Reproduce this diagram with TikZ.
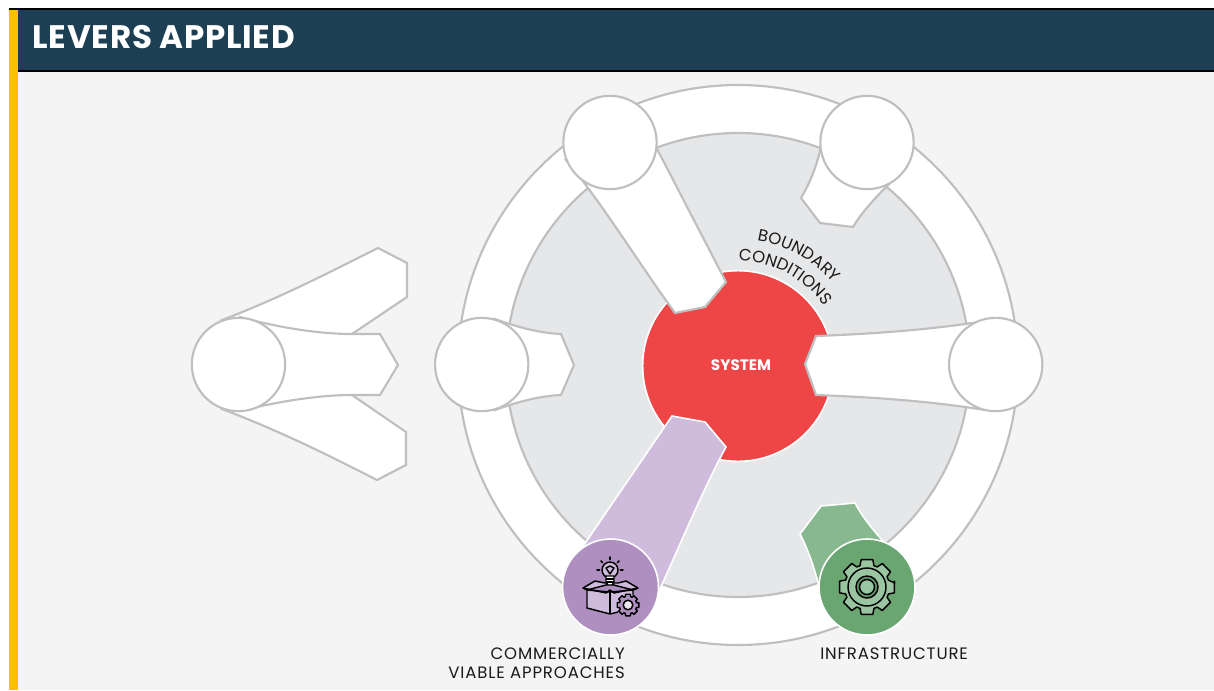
\documentclass[tikz,border=0pt]{standalone}
\usepackage{fontspec}
\setmainfont{Poppins}
\usetikzlibrary{decorations.text,calc}
\definecolor{bgc}{HTML}{F4F4F4}
\definecolor{headc}{HTML}{1C3F54}
\definecolor{yel}{HTML}{FFC000}
\definecolor{edge}{HTML}{BFBFBF}
\definecolor{disc}{HTML}{E6E7E9}
\definecolor{redc}{HTML}{EE4547}
\definecolor{purp}{HTML}{AE8FC0}
\definecolor{purpl}{HTML}{CFBBDB}
\definecolor{gree}{HTML}{69A671}
\definecolor{greel}{HTML}{88B88F}
\definecolor{greell}{HTML}{99C5A0}
\definecolor{ink}{HTML}{1A1A1A}
\newcommand{\labfont}{\fontsize{12.4pt}{14pt}\selectfont\addfontfeature{LetterSpace=5.2}}
\tikzset{
  ring/.style={draw=edge,line width=1.6pt,fill=white},
  lever/.style={draw=edge,line width=1.6pt,fill=white,line join=miter},
  knob/.style={circle,draw=edge,line width=1.6pt,fill=white,minimum size=70pt,inner sep=0pt},
  knobc/.style={circle,draw=white,line width=1.2pt,minimum size=72pt,inner sep=0pt},
  barc/.style={draw=white,line width=1.2pt},
  lab/.style={inner sep=0pt,text=ink,font=\labfont},
  icon/.style={draw=black,line width=1.1pt,line join=round},
}
\newcommand{\gearshape}[6]{% cx cy outer root fill width
  \draw[icon,fill=#5,line width=#6] ($(#1,#2)+(-8:#3)$)
  \foreach \a in {0,45,...,315}{ -- ($(#1,#2)+(\a-12:#3)$) -- ($(#1,#2)+(\a+12:#3)$) -- ($(#1,#2)+(\a+18:#4)$) -- ($(#1,#2)+(\a+27:#4)$) } -- cycle;
}
\begin{document}
\begin{tikzpicture}[x=.75pt,y=-.75pt]
\useasboundingbox (0,0) rectangle (1214,690);
\fill[white] (0,0) rectangle (1214,690);
\fill[bgc] (18,71) rectangle (1214,690);
\fill[headc] (18,9) rectangle (1214,70);
\fill[yel] (9,9) rectangle (18,690);
\draw[black,line width=1.3pt] (9,8.7) -- (1214,8.7);
\draw[black,line width=1.3pt] (18,70.7) -- (1214,70.7);
\node[anchor=west,inner sep=0pt,text=white,font=\fontsize{24.4pt}{28pt}\selectfont\bfseries\addfontfeature{LetterSpace=2.2}] (title) at (32.5,37) {LEVERS APPLIED};
% rings
\node[circle,ring,minimum size=420pt,inner sep=0pt] (outer) at (738,365) {};
\node[circle,draw=edge,line width=1.6pt,fill=disc,minimum size=348pt,inner sep=0pt] (inner) at (738,365) {};
\node[circle,draw=white,line width=1.2pt,fill=redc,minimum size=143pt,inner sep=0pt] (sys) at (738,366) {};
\node[inner sep=0pt,text=white,font=\fontsize{11.4pt}{13pt}\selectfont\bfseries] (systxt) at (741,365.5) {SYSTEM};
% curved label
\path[decorate,decoration={text along path,text align=center,text color=ink,text={|\labfont|BOUNDARY}}]
  (738,365) ++(-96:125.5) arc[start angle=-96,end angle=-26,radius=125.5];
\path[decorate,decoration={text along path,text align=center,text color=ink,text={|\labfont|CONDITIONS}}]
  (738,365) ++(-102:104) arc[start angle=-102,end angle=-22,radius=104];
% top left lever
\draw[lever] (566,160) .. controls (600,200) and (640,265) .. (675,313) -- (705,307) -- (726,282) -- (655,145) -- cycle;
\node[knob] (tl) at (610,142.5) {};
% top right lever
\draw[lever] (821,147) .. controls (817,165) and (810,183) .. (801,198) -- (820,223) -- (853,227) .. controls (862,212) and (875,198) .. (890,183) -- cycle;
\node[knob] (tr) at (867,142.5) {};
% right lever
\draw[lever] (985,321) .. controls (930,330) and (870,334) .. (816,336) -- (805,364) -- (816,395) .. controls (870,397) and (930,401) .. (985,410) -- cycle;
\node[knob] (rr) at (995.7,364.5) {};
% mid left lever
\draw[lever] (495,319) .. controls (520,328) and (540,333) .. (561,334) -- (574,365) -- (561,395) .. controls (540,396) and (520,401) .. (495,410) -- cycle;
\node[knob] (ml) at (481.7,364.5) {};
% far left fins
\draw[lever] (222,320) .. controls (280,298) and (330,272) .. (378,248) -- (407,263) -- (407,297) -- (352,334) -- (240,340) -- cycle;
\draw[lever] (222,409) .. controls (280,431) and (330,456) .. (377,480) -- (406,465) -- (406,432) -- (352,395) -- (240,390) -- cycle;
\draw[lever] (240,317) .. controls (280,328) and (320,334) .. (352,334) -- (380,334) -- (398,365) -- (380,395) -- (352,395) .. controls (320,395) and (280,401) .. (240,411) -- cycle;
\node[knob] (fl) at (238.5,364.5) {};
% purple lever
\draw[barc,fill=purpl] (672,416) -- (705,422) -- (726,447) .. controls (705,485) and (680,545) .. (655,600) -- (575,558) -- cycle;
\node[knobc,fill=purp] (pc) at (610.5,587) {};
% green lever
\draw[barc,fill=greel] (855,503) -- (821,506) -- (800,534) .. controls (808,550) and (814,566) .. (820,590) -- (895,555) .. controls (878,535) and (865,522) .. (855,503) -- cycle;
\node[knobc,fill=gree] (gc) at (867,587) {};
% purple icon
\fill[purpl] (587,590) -- (610,592) -- (633,590) -- (633,610) -- (610,614) -- (587,608) -- cycle;
\draw[icon] (610,592) -- (587,590) -- (587,608) -- (610,614) -- (618,612);
\draw[icon] (610,592) -- (610,614);
\draw[icon] (610,592) -- (633,590) -- (633,595);
\draw[icon,fill=purpl] (587,590) -- (583,588) -- (595,581) -- (605,583) -- (618,583) -- (626,581) -- (638,588) -- (633,590) -- (610,584) -- cycle;
\draw[icon] (583,588) -- (606,593) -- (610,590) -- (614,593) -- (638,588);
\draw[icon,fill=purpl] (610,570) circle[radius=8];
\draw[icon,fill=white] (606,576) -- (614,576) -- (614,582) -- (612,585) -- (608,585) -- (606,582) -- cycle;
\draw[icon] (606,568) -- (610,574) -- (614,568) -- (610,566) -- cycle;
\draw[icon] (606,579) -- (614,579) (606,582) -- (614,582);
\foreach \a in {-90,-45,-135,0,180}{\draw[icon,line cap=round] ($(610,570)+(\a:10.5)$) -- ($(610,570)+(\a:13)$);}
\gearshape{628}{605}{11}{8.8}{purp}{1.1pt}
\draw[icon,fill=purpl!40!white] (628,605) circle[radius=4.8];
% green icon
\gearshape{867}{587}{28}{22.5}{greell}{1.1pt}
\draw[icon,fill=greell] (867,587) circle[radius=19];
\draw[icon,fill=gree!90!black] (867,587) circle[radius=11];
\draw[icon,fill=greell] (867,587) circle[radius=7.5];
% labels
\node[lab,anchor=east] (l1) at (625,654) {COMMERCIALLY};
\node[lab,anchor=east] (l2) at (625,673) {VIABLE APPROACHES};
\node[lab,anchor=west] (l3) at (820,654) {INFRASTRUCTURE};
\end{tikzpicture}
\end{document}
